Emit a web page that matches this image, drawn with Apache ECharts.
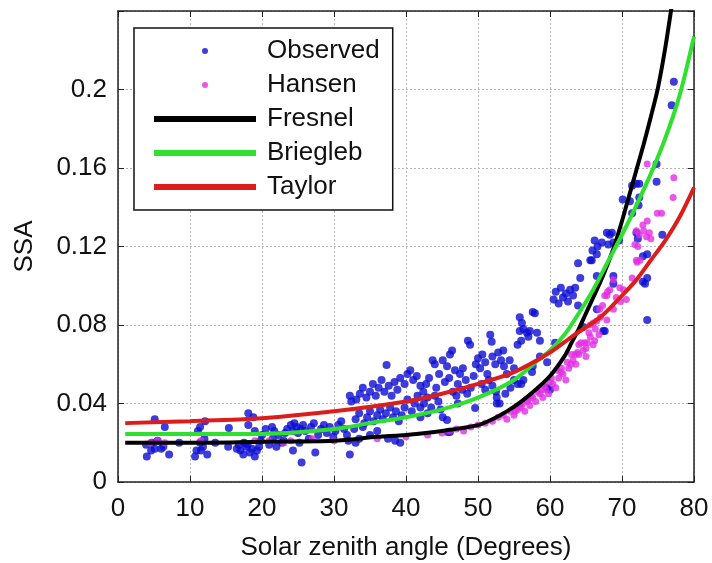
<!DOCTYPE html>
<html>
<head>
<meta charset="utf-8">
<script src="https://cdn.jsdelivr.net/npm/echarts@6/dist/echarts.min.js"></script>
<style>
html,body{margin:0;padding:0;background:#fff;}
#chart{width:712px;height:563px;}
</style>
</head>
<body>
<div id="chart"></div>
<script>
const xTicks = [0, 10, 20, 30, 40, 50, 60, 70, 80];
const yTicks = [0, 0.04, 0.08, 0.12, 0.16, 0.2];

const observed = [
[4.0,0.013],[4.7,0.020],[5.1,0.017],[5.1,0.032],[6.5,0.028],[6.0,0.017],[6.3,0.018],[7.1,0.014],[3.9,0.019],[4.6,0.016],[5.5,0.021],[8.5,0.020],
[10.7,0.013],[10.9,0.016],[11.1,0.026],[11.4,0.028],[12.1,0.031],[11.5,0.016],[12.4,0.014],[11.4,0.020],[11.8,0.018],[12.0,0.022],[13.5,0.020],
[15.3,0.018],[15.4,0.0275],[16.5,0.017],[17.0,0.016],[17.4,0.014],[17.8,0.018],[18.1,0.035],[18.8,0.033],[18.1,0.029],[19.0,0.026],[18.3,0.015],
[18.6,0.017],[19.0,0.013],[19.3,0.016],[19.6,0.018],[18.0,0.019],[17.5,0.020],[16.8,0.019],[19.8,0.021],[20.0,0.024],[21.4,0.028],[21.0,0.019],
[21.5,0.022],[22.3,0.024],[22.0,0.018],[22.8,0.020],[23.2,0.025],
[23.5,0.027],[24.0,0.029],[24.3,0.026],[24.5,0.030],[24.8,0.028],[25.0,0.025],[25.4,0.027],[25.7,0.029],[26.0,0.026],[24.3,0.016],[25.5,0.010],
[25.2,0.020],[26.5,0.022],[27.4,0.015],[27.8,0.024],[28.2,0.027],[28.6,0.029],[29.0,0.025],[29.4,0.028],[29.9,0.023],[30.2,0.026],[30.6,0.029],
[31.0,0.031],[31.4,0.027],[31.8,0.024],[32.2,0.014],[32.0,0.021],[33.0,0.020],[33.5,0.022],[26.8,0.028],[27.2,0.030],[23.0,0.021],[21.7,0.026],[20.5,0.027],
[32.2,0.044],[32.4,0.041],[33.1,0.042],[33.6,0.045],[34.0,0.048],[34.5,0.043],[35.0,0.046],[35.4,0.050],[35.8,0.044],[36.2,0.048],[36.6,0.052],
[37.0,0.046],[37.3,0.0596],[37.6,0.049],[38.0,0.044],[38.4,0.051],[38.8,0.047],[39.2,0.053],[39.8,0.050],[40.2,0.055],[40.6,0.057],[41.0,0.052],
[41.5,0.054],[42.0,0.049],
[33.0,0.032],[33.5,0.035],[34.2,0.030],[34.6,0.033],[35.0,0.036],[35.5,0.031],[36.0,0.034],[36.4,0.037],[36.8,0.032],[37.2,0.035],[37.8,0.038],
[38.2,0.033],[38.6,0.036],[39.0,0.031],[39.4,0.034],[39.8,0.038],[40.2,0.042],[40.8,0.036],[41.2,0.040],[41.6,0.044],[42.0,0.038],[37.5,0.022],
[38.5,0.021],[39.2,0.020],[36.0,0.026],[35.0,0.024],[34.0,0.028],[32.8,0.027],
[42.4,0.046],[42.8,0.050],[43.2,0.053],[43.7,0.062],[44.0,0.060],[44.2,0.048],[44.6,0.055],[45.1,0.062],[45.4,0.051],[45.7,0.059],[46.1,0.065],
[46.4,0.067],[46.0,0.053],[46.8,0.057],[47.2,0.050],[47.5,0.055],[47.9,0.058],[48.3,0.052],[48.6,0.072],[48.9,0.070],[49.0,0.048],[49.4,0.054],
[49.7,0.060],[50.0,0.063],[42.5,0.040],[43.0,0.043],[43.5,0.038],[44.0,0.044],[44.5,0.041],[45.1,0.033],[45.7,0.0316],[46.1,0.0255],[45.8,0.0255],
[46.5,0.046],[47.0,0.044],[47.8,0.047],[48.5,0.045],[49.6,0.0377],[43.0,0.035],[42.0,0.033],[44.8,0.037],[47.2,0.040],
[50.3,0.058],[50.6,0.065],[51.0,0.061],[51.3,0.055],[51.7,0.075],[51.9,0.0715],[52.0,0.064],[52.4,0.060],[52.8,0.066],[53.2,0.062],[53.5,0.067],
[53.6,0.059],[54.4,0.062],[50.5,0.050],[51.0,0.047],[51.5,0.052],[52.0,0.049],[52.5,0.046],[52.6,0.043],[53.0,0.040],[52.6,0.040],[53.8,0.045],
[54.5,0.048],[55.0,0.052],[55.5,0.050],[56.0,0.050],[56.3,0.052],[57.5,0.056],[55.8,0.084],[56.1,0.081],[56.3,0.078],[55.8,0.077],[56.8,0.076],
[57.2,0.077],[57.9,0.086],[58.2,0.076],[58.6,0.072],[57.6,0.0866],[56.0,0.072],[57.0,0.074],[55.5,0.070],[57.6,0.059],[58.6,0.064],[59.6,0.061],
[59.6,0.048],[60.0,0.047],[55.0,0.058],[54.0,0.055],
[60.5,0.093],[60.8,0.097],[61.2,0.091],[61.5,0.099],[61.8,0.094],[62.2,0.096],[62.5,0.092],[62.8,0.098],[63.2,0.095],[63.5,0.099],[63.9,0.090],
[63.9,0.1115],[64.2,0.104],[64.6,0.079],[60.7,0.071],[65.6,0.113],[65.9,0.118],[66.2,0.123],[66.5,0.116],[66.6,0.120],[67.9,0.127],[68.1,0.121],
[67.2,0.122],[66.5,0.088],[67.4,0.077],[67.6,0.077],[68.6,0.127],[68.8,0.122],[69.6,0.123],[68.3,0.126],[68.8,0.105],[68.8,0.101],
[66.5,0.105],[65.8,0.113],
[70.1,0.144],[71.1,0.143],[71.4,0.151],[72.0,0.152],[72.4,0.152],[72.4,0.145],[72.3,0.141],[71.4,0.137],[72.0,0.127],[72.2,0.124],[72.9,0.115],
[73.5,0.116],[73.5,0.104],[73.2,0.101],[73.5,0.0825],[72.9,0.102],[74.8,0.162],[74.8,0.153],[75.6,0.126],[76.9,0.192],[77.2,0.204]
];

const hansen = [
[4.5,0.020],[5.5,0.021],[6.5,0.020],[11.5,0.021],[19.0,0.021],[21.0,0.021],[23.0,0.020],[24.0,0.021],[27.0,0.022],[30.0,0.021],
[36.0,0.022],[40.0,0.023],[43.0,0.024],[45.0,0.025],[46.0,0.026],[47.0,0.027],[48.0,0.026],[49.0,0.028],[50.0,0.029],[51.0,0.030],
[52.0,0.031],[52.8,0.033],[53.5,0.034],[54.0,0.032],[54.5,0.036],[55.0,0.034],[55.5,0.037],[56.0,0.038],[56.5,0.036],[56.8,0.041],
[57.2,0.039],[57.6,0.043],[58.0,0.041],[58.6,0.045],[59.0,0.043],[59.4,0.047],[59.8,0.045],[60.4,0.050],[60.8,0.048],[61.2,0.053],
[61.8,0.055],[62.2,0.052],[62.6,0.058],[63.2,0.062],[63.6,0.060],[64.0,0.065],[64.6,0.067],[65.0,0.064],[65.2,0.071],[65.6,0.074],
[66.0,0.070],[66.3,0.078],[66.5,0.082],[66.9,0.088],[67.6,0.095],[67.9,0.0825],[68.8,0.088],[69.7,0.099],[70.2,0.098],[69.2,0.094],
[70.6,0.093],[69.8,0.092],[71.4,0.104],[72.1,0.112],[72.5,0.113],[71.8,0.121],[72.2,0.120],[72.4,0.126],[73.4,0.125],[73.0,0.128],
[74.0,0.124],[73.8,0.127],[72.9,0.131],[73.5,0.133],[74.9,0.137],[75.5,0.137],[77.1,0.145],[77.2,0.155],[73.5,0.162],[63.5,0.065],
[64.8,0.071],[61.0,0.057],[64.0,0.070],[65.0,0.068],[66.2,0.072],[66.8,0.075],[65.6,0.080],[67.0,0.084],
[58.3,0.046],[59.2,0.049],[60.0,0.051],[61.5,0.056],[62.9,0.060],[63.8,0.066],[64.3,0.071],[65.4,0.076],[66.0,0.081],[67.3,0.090],
[68.0,0.097],[68.3,0.098],[68.8,0.103],[67.9,0.095],[55.2,0.036],[55.8,0.039],[56.2,0.040],[57.0,0.042],[57.4,0.044],[58.8,0.047],
[60.2,0.053],[61.6,0.058],[62.4,0.061],[63.0,0.065],[72.0,0.128],[72.0,0.113]
];

const fresnel = [
[1,0.020],[10,0.020],[20,0.0205],[30,0.021],[36,0.023],[40,0.024],[45,0.026],[50,0.029],[52,0.032],[54,0.036],[56,0.041],[58,0.047],
[60,0.054],[62,0.064],[63,0.071],[64,0.078],[65,0.086],[66,0.094],[67,0.102],[68,0.111],[69,0.121],[70,0.133],[71,0.146],[72,0.159],
[73,0.172],[74,0.186],[75,0.201],[76,0.221],[77,0.245]
];
const briegleb = [
[1,0.0245],[10,0.0245],[20,0.0245],[30,0.027],[35,0.030],[40,0.033],[45,0.037],[50,0.043],[55,0.052],[58,0.061],[60,0.067],
[62,0.075],[64,0.086],[66,0.098],[68,0.112],[70,0.126],[72,0.141],[74,0.157],[76,0.175],[78,0.197],[80,0.227]
];
const taylor = [
[1,0.030],[10,0.031],[20,0.0325],[30,0.036],[40,0.041],[45,0.045],[50,0.050],[55,0.056],[60,0.066],[63,0.074],[67,0.084],
[70,0.095],[72,0.103],[74,0.113],[76,0.123],[78,0.135],[80,0.150]
];

const FONT = 'Liberation Sans, Arial, sans-serif';
const chart = echarts.init(document.getElementById('chart'));
const gridLine = {show: true, lineStyle: {color: '#b5b5b5', type: [2, 2], width: 1}};
chart.setOption({
  animation: false,
  backgroundColor: '#fff',
  grid: {left: 118, right: 18, top: 11, bottom: 81, show: false, containLabel: false, outerBoundsMode: 'none'},
  legend: {
    orient: 'vertical', left: 134, top: 28,
    backgroundColor: '#fff', borderColor: '#111', borderWidth: 1.5,
    padding: [10, 13, 10, 20],
    itemWidth: 102, itemHeight: 6, itemGap: 8,
    textStyle: {fontFamily: FONT, fontSize: 26, color: '#111', lineHeight: 26, padding: [0, 0, 0, 6]},
    data: [
      {name: 'Observed', icon: 'circle'},
      {name: 'Hansen', icon: 'circle'},
      {name: 'Fresnel', icon: 'rect', itemStyle: {color: '#000'}},
      {name: 'Briegleb', icon: 'rect'},
      {name: 'Taylor', icon: 'rect'}
    ]
  },
  xAxis: [{
    type: 'value', min: 0, max: 80, interval: 10, position: 'bottom',
    name: 'Solar zenith angle (Degrees)', nameLocation: 'middle', nameGap: 53,
    nameTextStyle: {fontFamily: FONT, fontSize: 26, color: '#111'},
    axisLine: {show: true, onZero: false, lineStyle: {color: '#222', width: 1.5}},
    axisTick: {show: true, inside: true, length: 6, lineStyle: {color: '#222'}},
    axisLabel: {fontFamily: FONT, fontSize: 26, color: '#111', margin: 14},
    splitLine: gridLine
  }, {
    type: 'value', min: 0, max: 80, interval: 10, position: 'top',
    axisLine: {show: true, onZero: false, lineStyle: {color: '#222', width: 1.5}},
    axisTick: {show: true, inside: true, length: 6, lineStyle: {color: '#222'}},
    axisLabel: {show: false}, splitLine: {show: false}
  }],
  yAxis: [{
    type: 'value', min: 0, max: 0.24, interval: 0.04, position: 'left',
    name: 'SSA', nameLocation: 'middle', nameGap: 80,
    nameTextStyle: {fontFamily: FONT, fontSize: 26, color: '#111'},
    axisLine: {show: true, onZero: false, lineStyle: {color: '#222', width: 1.5}},
    axisTick: {show: true, inside: true, length: 6, lineStyle: {color: '#222'}},
    axisLabel: {fontFamily: FONT, fontSize: 26, color: '#111', margin: 11,
      formatter: v => {const m = yTicks.find(t => Math.abs(t - v) < 1e-9); return m === undefined ? '' : String(m);}},
    splitLine: gridLine
  }, {
    type: 'value', min: 0, max: 0.24, interval: 0.04, position: 'right',
    axisLine: {show: true, onZero: false, lineStyle: {color: '#222', width: 1.5}},
    axisTick: {show: true, inside: true, length: 6, lineStyle: {color: '#222'}},
    axisLabel: {show: false}, splitLine: {show: false}
  }],
  series: [
    {name: 'Observed', type: 'scatter', data: observed, symbolSize: 8, itemStyle: {color: '#0c0cd2'}, z: 2},
    {name: 'Hansen', type: 'scatter', data: hansen, symbolSize: 7, itemStyle: {color: '#e22ee2'}, z: 3},
    {name: 'Fresnel', type: 'line', data: fresnel, smooth: 0.3, showSymbol: false, symbol: 'none', clip: true,
      lineStyle: {color: '#000', width: 4}, itemStyle: {color: '#000'}, z: 5},
    {name: 'Briegleb', type: 'line', data: briegleb, smooth: 0.3, showSymbol: false, symbol: 'none', clip: true,
      lineStyle: {color: '#2fe02f', width: 4}, itemStyle: {color: '#2fe02f'}, z: 6},
    {name: 'Taylor', type: 'line', data: taylor, smooth: 0.3, showSymbol: false, symbol: 'none', clip: true,
      lineStyle: {color: '#dd1c1c', width: 4}, itemStyle: {color: '#dd1c1c'}, z: 7}
  ]
});
</script>
</body>
</html>
